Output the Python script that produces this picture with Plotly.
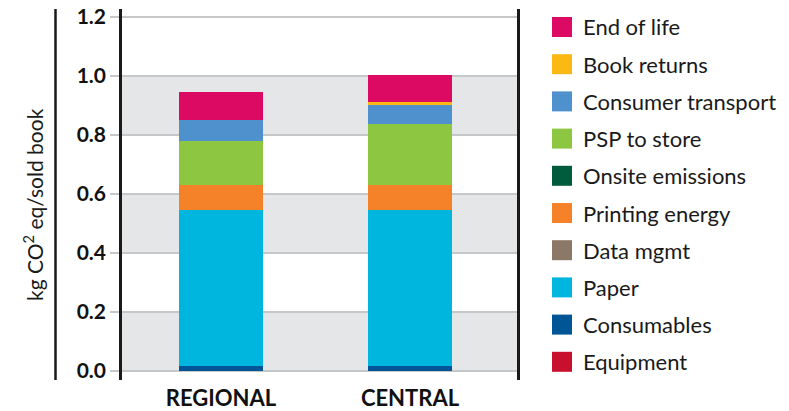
import plotly.graph_objects as go

categories = ["REGIONAL", "CENTRAL"]

# stacked from bottom to top
series_names = ["Equipment", "Consumables", "Paper", "Data mgmt", "Printing energy",
                "Onsite emissions", "PSP to store", "Consumer transport", "Book returns", "End of life"]
series_colors = ["#c8102e", "#005596", "#00b5de", "#8b7866", "#f58229",
                 "#005a3c", "#8dc641", "#4f91cd", "#fdb913", "#dc0a62"]
equipment = [0.0, 0.0]
consumables = [0.018, 0.018]
paper = [0.528, 0.528]
data_mgmt = [0.0, 0.0]
printing_energy = [0.085, 0.085]
onsite_emissions = [0.0, 0.0]
psp_to_store = [0.147, 0.206]
consumer_transport = [0.073, 0.065]
book_returns = [0.0, 0.011]
end_of_life = [0.095, 0.090]
series_values = [equipment, consumables, paper, data_mgmt, printing_energy,
                 onsite_emissions, psp_to_store, consumer_transport, book_returns, end_of_life]

y_ticks = [0.0, 0.2, 0.4, 0.6, 0.8, 1.0, 1.2]
y_tick_labels = ["0.0", "0.2", "0.4", "0.6", "0.8", "1.0", "1.2"]

W, H = 789, 411
L, R, T, B = 122, 517, 9, 380

def px2x(px):
    return (px - L) / (R - L)

def py2y(py):
    return (B - py) / (B - T)

FONT = "Lato"

fig = go.Figure()
for name, color, vals in zip(series_names, series_colors, series_values):
    fig.add_trace(go.Bar(
        x=categories, y=vals, name=name, width=0.44,
        marker=dict(color=color, line=dict(width=0)),
        showlegend=False,
    ))

shapes = []
# alternating grey bands
for lo, hi in [(0.0, 0.2), (0.4, 0.6), (0.8, 1.0)]:
    shapes.append(dict(type="rect", xref="paper", yref="y", x0=0, x1=1, y0=lo, y1=hi,
                       fillcolor="#e5e6e8", line=dict(width=0), layer="below"))
# extra vertical line left of axis title region
shapes.append(dict(type="line", xref="paper", yref="paper", x0=px2x(55.5), x1=px2x(55.5),
                   y0=0, y1=1, line=dict(color="#1a1a1a", width=2.5)))

annotations = []
# manual legend (top to bottom)
n = len(series_names)
for i in range(n):
    idx = n - 1 - i
    cy = 27 + i * 37.2
    shapes.append(dict(type="rect", xref="paper", yref="paper",
                       x0=px2x(552), x1=px2x(572), y0=py2y(cy + 10), y1=py2y(cy - 10),
                       fillcolor=series_colors[idx], line=dict(width=0)))
    annotations.append(dict(x=px2x(581), y=py2y(cy), xref="paper", yref="paper",
                            text=series_names[idx], showarrow=False, xanchor="left",
                            yanchor="middle", font=dict(family=FONT, size=22, color="#1a1a1a")))

annotations.append(dict(x=px2x(33), y=py2y(205), xref="paper", yref="paper",
                        text="kg CO<sup>2</sup> eq/sold book", textangle=-90, showarrow=False,
                        xanchor="center", yanchor="middle",
                        font=dict(family=FONT, size=21, color="#1a1a1a")))

fig.update_layout(
    barmode="stack",
    width=W, height=H,
    margin=dict(l=L, r=W - R, t=T, b=H - B, pad=0, autoexpand=False),
    paper_bgcolor="white", plot_bgcolor="white",
    shapes=shapes, annotations=annotations,
    showlegend=False,
    bargap=0,
)
fig.update_xaxes(
    range=[-0.524, 1.566], showgrid=False, zeroline=False, showline=False,
    ticks="", ticklabelstandoff=3, automargin=False,
    tickfont=dict(family=FONT, size=22, color="#111111", weight="bold"),
)
fig.update_yaxes(
    range=[-0.0305, 1.227], tickvals=y_ticks, ticktext=y_tick_labels,
    showgrid=True, gridcolor="#c6c7c9", gridwidth=2, zeroline=False,
    showline=True, linecolor="#1a1a1a", linewidth=2.5, mirror=True,
    ticks="outside", ticklen=9, tickcolor="#c6c7c9", tickwidth=2, automargin=False,
    tickfont=dict(family=FONT, size=21, color="#111111", weight="bold"),
)

fig.write_html("out.html")
